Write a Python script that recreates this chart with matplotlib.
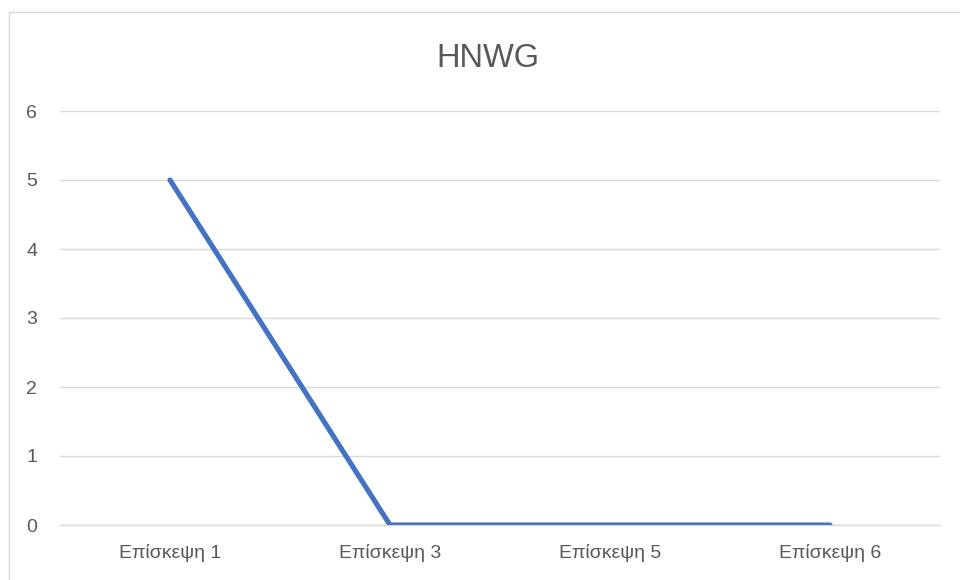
import matplotlib
matplotlib.use('Agg')
import matplotlib.pyplot as plt
from matplotlib.lines import Line2D

# chart data
categories = ['Επίσκεψη 1', 'Επίσκεψη 3', 'Επίσκεψη 5', 'Επίσκεψη 6']
values = [5, 0, 0, 0]
y_ticks = [0, 1, 2, 3, 4, 5, 6]
title = 'HNWG'

plt.rcParams['font.family'] = ['Liberation Sans', 'DejaVu Sans']

fig = plt.figure(figsize=(9.6, 5.8), dpi=100)
ax = fig.add_axes([60 / 960, 1 - 525 / 580, 880 / 960, 414 / 580])

x = range(len(categories))
ax.plot(x, values, color='#4472C4', linewidth=3.7, solid_capstyle='round',
        solid_joinstyle='round', zorder=3)

ax.set_xlim(-0.5, len(categories) - 0.5)
ax.set_ylim(0, 6)
ax.set_yticks(y_ticks)
ax.set_xticks(list(x))
ax.set_xticklabels(categories)

ax.grid(axis='y', color='#D9D9D9', linewidth=1)
ax.set_axisbelow(True)
for side in ['top', 'right', 'left']:
    ax.spines[side].set_visible(False)
ax.spines['bottom'].set_color('#D9D9D9')
ax.spines['bottom'].set_linewidth(1)
ax.tick_params(axis='both', length=0, labelsize=14, colors='#595959')
ax.tick_params(axis='y', pad=16.5)
ax.tick_params(axis='x', pad=14)

fig.text(488 / 960, 1 - 67 / 580, title, ha='center', va='baseline',
         fontsize=23.5, color='#595959')

# chart border (only top and left edges fall inside the picture)
bx, by = 8.5 / 960, 1 - 11.5 / 580
fig.add_artist(Line2D([bx, bx, 1], [0, by, by], transform=fig.transFigure,
                      color='#D9D9D9', linewidth=1))

fig.savefig('out.png', dpi=100)
